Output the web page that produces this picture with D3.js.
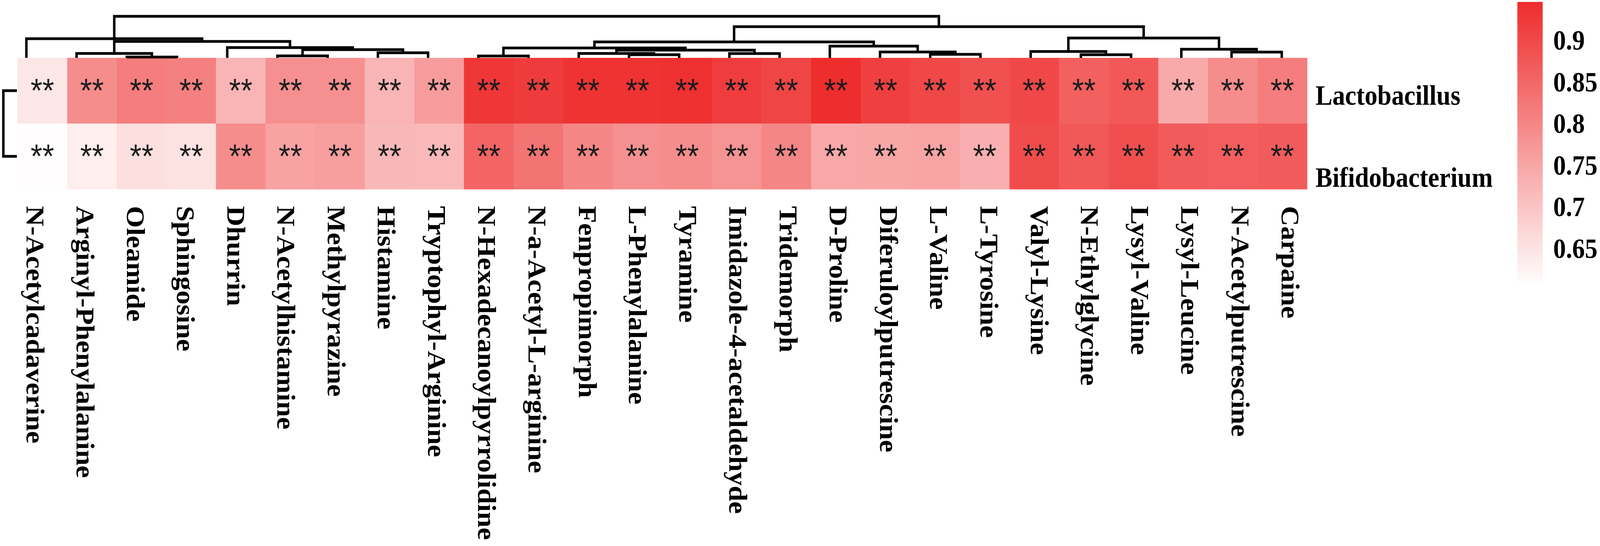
<!DOCTYPE html>
<meta charset="utf-8">
<script src="https://d3js.org/d3.v7.min.js"></script>
<style>
  html, body { margin: 0; padding: 0; background: #fff; overflow: hidden; }
  #my_dataviz svg { display: block; width: 100vw; height: 100vh; }
</style>
<div id="my_dataviz"></div>
<script>

// metabolites, in dendrogram (column) order
var metabolites = ["N-Acetylcadaverine", "Arginyl-Phenylalanine", "Oleamide", "Sphingosine",
  "Dhurrin", "N-Acetylhistamine", "Methylpyrazine", "Histamine", "Tryptophyl-Arginine",
  "N-Hexadecanoylpyrrolidine", "N-a-Acetyl-L-arginine", "Fenpropimorph", "L-Phenylalanine",
  "Tyramine", "Imidazole-4-acetaldehyde", "Tridemorph", "D-Proline", "Diferuloylputrescine",
  "L-Valine", "L-Tyrosine", "Valyl-Lysine", "N-Ethylglycine", "Lysyl-Valine", "Lysyl-Leucine",
  "N-Acetylputrescine", "Carpaine"];

var bacteria = ["Lactobacillus", "Bifidobacterium"];

// correlation values
var lactobacillus = [0.645, 0.790, 0.815, 0.810, 0.725, 0.786, 0.785, 0.725, 0.765,
  0.928, 0.922, 0.935, 0.935, 0.940, 0.918, 0.905, 0.945, 0.915, 0.902, 0.888,
  0.900, 0.862, 0.875, 0.742, 0.790, 0.815];
var bifidobacterium = [0.608, 0.632, 0.657, 0.652, 0.790, 0.755, 0.762, 0.720, 0.718,
  0.855, 0.830, 0.800, 0.785, 0.790, 0.780, 0.800, 0.745, 0.748, 0.752, 0.735,
  0.895, 0.875, 0.890, 0.870, 0.865, 0.870];

// significance marks
var signifLacto = ["**","**","**","**","**","**","**","**","**","**","**","**","**",
  "**","**","**","**","**","**","**","**","**","**","**","**","**"];
var signifBifido = ["**","**","**","**","**","**","**","**","**","**","**","**","**",
  "**","**","**","**","**","**","**","**","**","**","**","**","**"];

// column clustering, hclust style: negative = leaf, positive = earlier merge
var colMerges = [
  [-3, -4, 0.20], [-6, -7, 0.50], [-10, -11, 0.47], [-13, -14, 0.80], [-22, -23, 0.80],
  [-19, -20, 0.90], [-8, -9, 1.30], [-15, -16, 1.10], [-2, 1, 1.13], [-12, 4, 1.13],
  [-25, -26, 1.47], [-18, 6, 1.50], [-21, 5, 1.63], [2, 7, 2.10], [10, 8, 1.97],
  [-24, 11, 2.20], [-5, 14, 2.63], [3, 15, 2.53], [-17, 12, 3.00], [9, 17, 4.20],
  [18, 19, 4.07], [13, 16, 5.07], [-1, 20, 4.90], [21, 22, 7.97], [23, 24, 10.63]
];
// row clustering
var rowMerges = [[-1, -2, 1]];

var colorDomain = [0.605, 0.946];
var colorTicks = [0.9, 0.85, 0.8, 0.75, 0.7, 0.65];

var width = 4550, height = 1397;

// drawn in a fixed 4550x1397 frame, stretched to whatever the window is
var svg = d3.select("#my_dataviz")
  .append("svg")
    .attr("viewBox", "0 0 " + width + " " + height)
    .attr("preserveAspectRatio", "none");

// scales
var x = d3.scaleBand().domain(metabolites).range([50, 3717]);
var y = d3.scaleBand().domain(bacteria).range([148, 484]);
var leafX = d3.scalePoint().domain(metabolites).range([75, 3645]);
var dendY = d3.scaleLinear().domain([0, 10.63]).range([148, 41.7]);
var rowDendX = d3.scaleLinear().domain([0, 1]).range([48, 9.5]);
var color = d3.scaleLinear().domain(colorDomain).range(["#ffffff", "#EE2C2C"]);

// cells
var cells = [];
bacteria.forEach(function(b, r) {
  var vals = r === 0 ? lactobacillus : bifidobacterium;
  var sig = r === 0 ? signifLacto : signifBifido;
  metabolites.forEach(function(m, i) {
    cells.push({row: b, col: m, value: vals[i], sig: sig[i]});
  });
});

svg.append("g")
  .selectAll("rect")
  .data(cells)
  .enter()
  .append("rect")
    .attr("x", function(d) { return x(d.col) })
    .attr("y", function(d) { return y(d.row) })
    .attr("width", x.bandwidth() + 0.6)
    .attr("height", y.bandwidth() + 0.6)
    .attr("fill", function(d) { return color(d.value) });

// significance stars
svg.append("g")
  .selectAll("text")
  .data(cells)
  .enter()
  .append("text")
    .attr("x", function(d) { return x(d.col) + x.bandwidth() / 2 })
    .attr("y", function(d) { return y(d.row) + y.bandwidth() / 2 + 29 })
    .attr("text-anchor", "middle")
    .style("font-family", "'Liberation Sans', Arial, sans-serif")
    .style("font-size", "86px")
    .style("fill", "#1c1c1c")
    .text(function(d) { return d.sig });

// dendrogram helper: returns list of elbow paths
function buildDendro(merges, leafPos) {
  var nodes = [];
  var paths = [];
  function pos(id) {
    if (id < 0) return {p: leafPos(-id - 1), h: 0};
    return nodes[id - 1];
  }
  merges.forEach(function(m) {
    var a = pos(m[0]), b = pos(m[1]);
    paths.push({a: a, b: b, h: m[2]});
    nodes.push({p: (a.p + b.p) / 2, h: m[2]});
  });
  return paths;
}

// top dendrogram
var colPaths = buildDendro(colMerges, function(i) { return leafX(metabolites[i]) });
svg.append("g")
  .selectAll("path")
  .data(colPaths)
  .enter()
  .append("path")
    .attr("fill", "none")
    .attr("stroke", "#000")
    .attr("stroke-width", 7)
    .attr("d", function(d) {
      return "M" + d.a.p + "," + dendY(d.a.h) +
             "V" + dendY(d.h) + "H" + d.b.p + "V" + dendY(d.b.h);
    });

// left dendrogram
var rowPaths = buildDendro(rowMerges, function(i) { return y(bacteria[i]) + y.bandwidth() / 2 });
svg.append("g")
  .selectAll("path")
  .data(rowPaths)
  .enter()
  .append("path")
    .attr("fill", "none")
    .attr("stroke", "#000")
    .attr("stroke-width", 7)
    .attr("d", function(d) {
      return "M" + rowDendX(d.a.h) + "," + d.a.p +
             "H" + rowDendX(d.h) + "V" + d.b.p + "H" + rowDendX(d.b.h);
    });

var serif = "'Liberation Serif', 'Times New Roman', serif";

// column labels
svg.append("g")
  .selectAll("text")
  .data(metabolites)
  .enter()
  .append("text")
    .attr("transform", function(d) { return "translate(" + leafX(d) + ",527) rotate(90)" })
    .attr("text-anchor", "start")
    .style("font-family", serif)
    .style("font-weight", "bold")
    .style("font-size", "72px")
    .text(function(d) { return d });

// row labels
var rowBaseline = {"Lactobacillus": 268, "Bifidobacterium": 478};
svg.append("g")
  .selectAll("text")
  .data(bacteria)
  .enter()
  .append("text")
    .attr("x", 3741)
    .attr("y", function(d) { return rowBaseline[d] })
    .style("font-family", serif)
    .style("font-weight", "bold")
    .style("font-size", "72px")
    .text(function(d) { return d });

// colour bar
var barY = d3.scaleLinear().domain([0.65, 0.9]).range([636, 103]);
var defs = svg.append("defs");
var grad = defs.append("linearGradient")
  .attr("id", "bar-grad")
  .attr("x1", 0).attr("y1", 0).attr("x2", 0).attr("y2", 1);
d3.range(0, 1.0001, 0.05).forEach(function(t) {
  var v = colorDomain[1] - t * (colorDomain[1] - colorDomain[0]);
  grad.append("stop")
    .attr("offset", t)
    .attr("stop-color", color(v));
});

svg.append("rect")
  .attr("x", 4315)
  .attr("y", barY(colorDomain[1]))
  .attr("width", 72)
  .attr("height", barY(colorDomain[0]) - barY(colorDomain[1]))
  .attr("fill", "url(#bar-grad)");

svg.append("g")
  .selectAll("text")
  .data(colorTicks)
  .enter()
  .append("text")
    .attr("x", 4417)
    .attr("y", function(d) { return barY(d) + 24 })
    .style("font-family", serif)
    .style("font-weight", "bold")
    .style("font-size", "72px")
    .text(function(d) { return String(d) });

</script>
